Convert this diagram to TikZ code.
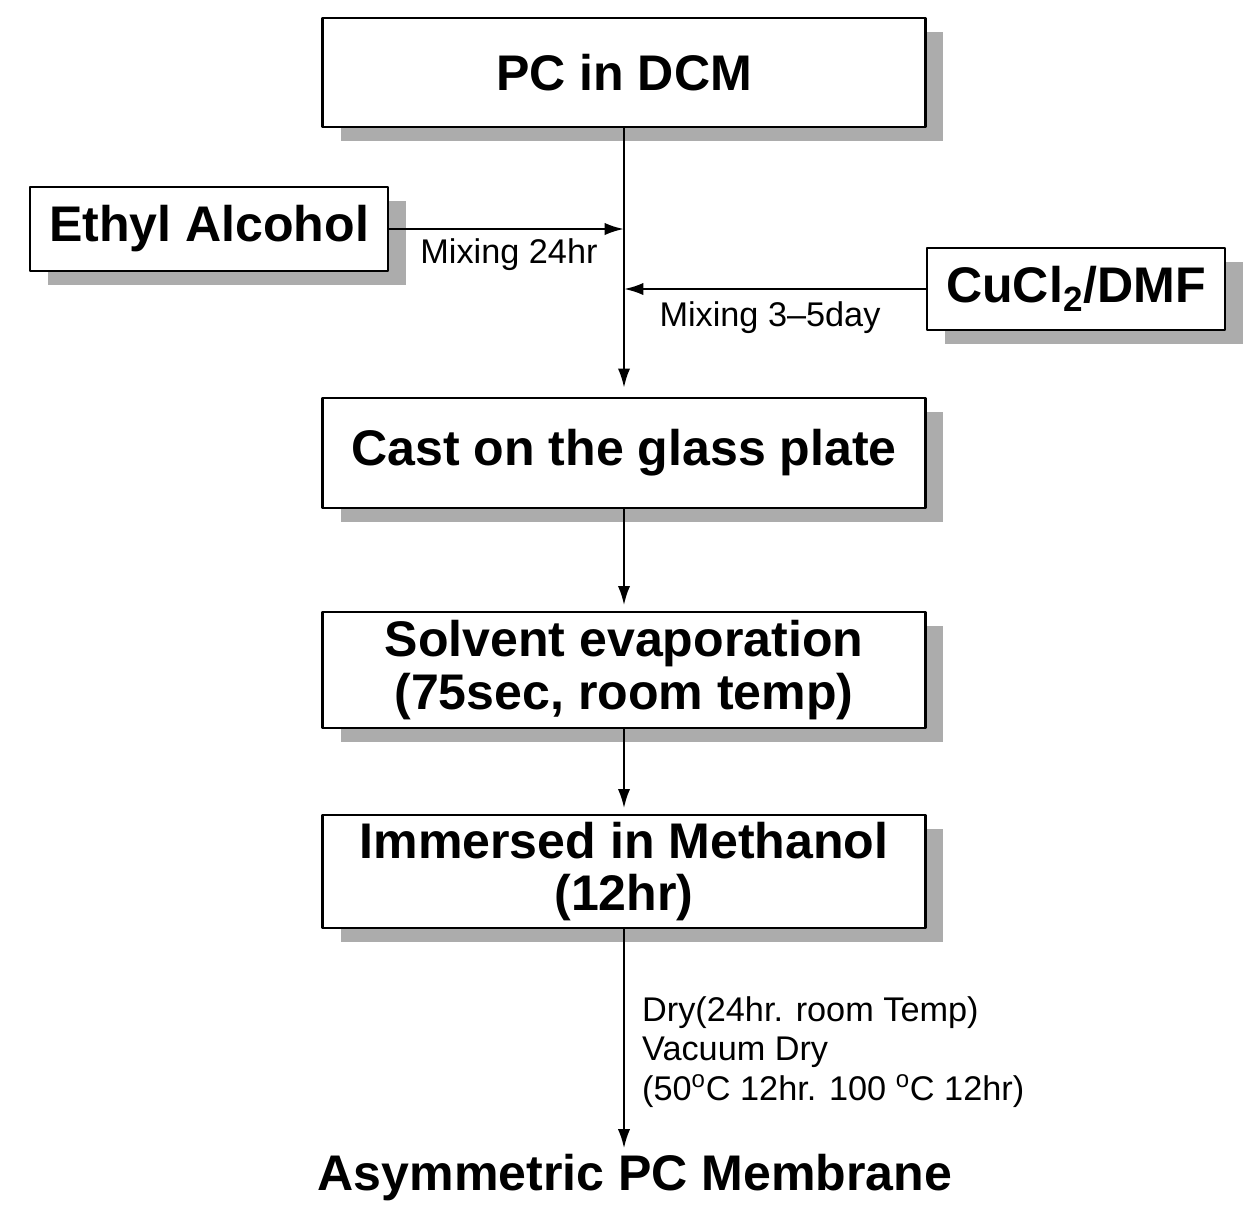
\documentclass[tikz,border=0pt]{standalone}
\usepackage{fontspec}
\setmainfont{Liberation Sans}
\usetikzlibrary{arrows.meta, shadows}

\tikzset{
	stepbox/.style={draw, line width=1.6pt, fill=white, align=center,
		font=\bfseries\fontsize{28.5}{30}\selectfont,
		drop shadow={shadow xshift=0.36cm, shadow yshift=-0.28cm, fill=gray!65, opacity=1}},
	arr/.style={-{Latex[length=11pt,width=7pt]}, line width=1.4pt},
	note/.style={font=\fontsize{19.5}{22.7}\selectfont, align=left}
}

\begin{document}
\begin{tikzpicture}[x=0.02cm, y=-0.02cm, line cap=round, line join=round]
	\useasboundingbox (0,0) rectangle (1247,1204);
	
	%========================
	% boxes
	%========================
	\node[stepbox, minimum width=12.06cm, minimum height=2.18cm] (pc) at (624,72.5) {PC in DCM};
	\node[stepbox, minimum width=7.16cm, minimum height=1.68cm] (eth) at (209,229) {Ethyl Alcohol};
	\node[stepbox, minimum width=5.96cm, minimum height=1.64cm] (cucl) at (1076,289) {CuCl\textsubscript{2}/DMF};
	\node[stepbox, minimum width=12.06cm, minimum height=2.2cm] (cast) at (624,453) {Cast on the glass plate};
	\node[stepbox, minimum width=12.06cm, minimum height=2.32cm] (solv) at (624,670) {Solvent evaporation\\(75sec, room temp)};
	\node[stepbox, minimum width=12.06cm, minimum height=2.26cm] (imm) at (624,871.5) {Immersed in Methanol\\(12hr)};
	\node[font=\bfseries\fontsize{28.5}{30}\selectfont] (mem) at (635,1178) {Asymmetric PC Membrane};
	
	%========================
	% connectors
	%========================
	\draw[arr, shorten >=5pt] (pc.south) -- (cast.north);
	\draw[arr] (eth.east) -- (eth.east -| pc.south);
	\draw[arr] (cucl.west) -- (cucl.west -| pc.south);
	\draw[arr, shorten >=3pt] (cast.south) -- (solv.north);
	\draw[arr, shorten >=3pt] (solv.south) -- (imm.north);
	\draw[arr] (imm.south) -- (mem.north -| imm.south);
	
	% labels
	\node[note] (mix1) at (509,255) {Mixing 24hr};
	\node[note] (mix2) at (770,318) {Mixing 3\textendash5day};
	\node[note, anchor=north west] (dry) at (636,990)
	{Dry(24hr. room Temp)\\Vacuum Dry\\(50\textsuperscript{o}C 12hr. 100 \textsuperscript{o}C 12hr)};
	
\end{tikzpicture}
\end{document}
